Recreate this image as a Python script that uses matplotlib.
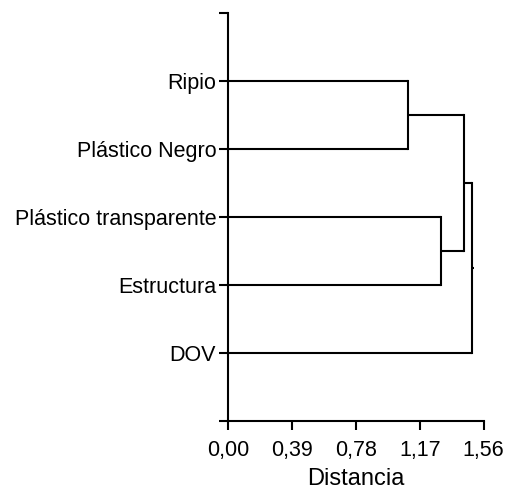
import matplotlib
matplotlib.use('Agg')
import matplotlib.pyplot as plt

plt.rcParams['font.family'] = ['Liberation Sans', 'DejaVu Sans']

# Data
leaves = ['Ripio', 'Plástico Negro', 'Plástico transparente', 'Estructura', 'DOV']
# merges: (left cluster, right cluster, distance); clusters 0-4 are leaves, 5+ are merges
merges = [(0, 1, 1.10), (2, 3, 1.30), (5, 6, 1.44), (7, 4, 1.49)]
xticks = [0.00, 0.39, 0.78, 1.17, 1.56]
xticklabels = ['0,00', '0,39', '0,78', '1,17', '1,56']

fig = plt.figure(figsize=(5.07, 4.92), dpi=100)
ax = fig.add_axes([0.4497, 0.1443, 0.5043, 0.8293])

# position (y) and height (x) of each cluster
ypos = {i: i + 1 for i in range(len(leaves))}
xpos = {i: 0.0 for i in range(len(leaves))}

lw = 1.5
for k, (a, b, d) in enumerate(merges):
    node = len(leaves) + k
    ax.plot([xpos[a], d], [ypos[a], ypos[a]], color='black', lw=lw, solid_capstyle='butt')
    ax.plot([xpos[b], d], [ypos[b], ypos[b]], color='black', lw=lw, solid_capstyle='butt')
    ax.plot([d, d], [ypos[a], ypos[b]], color='black', lw=lw, solid_capstyle='projecting')
    ypos[node] = (ypos[a] + ypos[b]) / 2
    xpos[node] = d

# root stub
root = len(leaves) + len(merges) - 1
ax.plot([xpos[root], xpos[root] + 0.012], [ypos[root], ypos[root]], color='black', lw=lw, solid_capstyle='butt')

ax.set_xlim(0, 1.56)
ax.set_ylim(6, 0)
ax.set_xticks(xticks)
ax.set_xticklabels(xticklabels, fontsize=15.5)
ax.set_yticks(range(0, 7))
ax.set_yticklabels([''] + leaves + [''], fontsize=15.5)
ax.set_xlabel('Distancia', fontsize=17, labelpad=5)

for s in ['top', 'right']:
    ax.spines[s].set_visible(False)
for s in ['left', 'bottom']:
    ax.spines[s].set_linewidth(1.5)
ax.tick_params(axis='both', length=6.5, width=1.5, pad=2, colors='black')
ax.tick_params(axis='x', pad=7)

fig.savefig('out.png', dpi=100)
